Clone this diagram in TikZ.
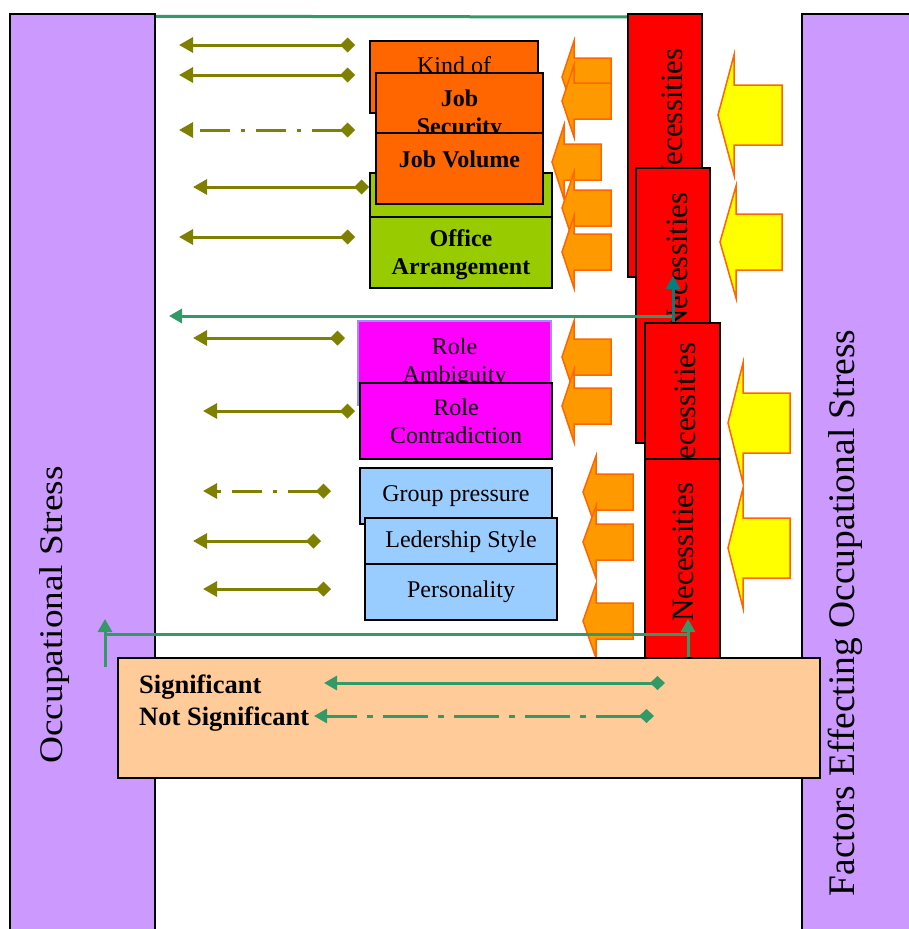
\documentclass[tikz,border=0pt]{standalone}
\usepackage{fontspec}
\setmainfont{Liberation Serif}
\usetikzlibrary{arrows.meta}
\definecolor{cpurple}{HTML}{CC99FF}
\definecolor{cred}{HTML}{FF0000}
\definecolor{corange}{HTML}{FF6600}
\definecolor{carrow}{HTML}{FF9900}
\definecolor{cyellow}{HTML}{FFFF00}
\definecolor{cgreen}{HTML}{99CC00}
\definecolor{cmagenta}{HTML}{FF00FF}
\definecolor{clavender}{HTML}{A08CFF}
\definecolor{cblue}{HTML}{99CCFF}
\definecolor{cbeige}{HTML}{FFCC99}
\definecolor{colive}{HTML}{808000}
\definecolor{cline}{HTML}{339966}
\definecolor{cteal}{HTML}{008080}
\newcommand{\boxfont}{\fontsize{24}{28}\selectfont}
\newcommand{\necfont}{\fontsize{31}{36}\selectfont}
\newcommand{\sidefont}{\fontsize{37.5}{42}\selectfont}
\newcommand{\legfont}{\fontsize{26.5}{32}\selectfont\bfseries}

\begin{document}
\begin{tikzpicture}[
  x=1pt, y=-1pt,
  bar/.style={draw, line width=1.5pt, fill=cpurple, inner sep=0pt},
  redbox/.style={draw, line width=2pt, fill=cred, inner sep=0pt},
  nectext/.style={rotate=90, font=\necfont, inner sep=0pt},
  box/.style={draw, line width=2pt, inner sep=0pt, align=center, font=\boxfont},
  obox/.style={box, fill=corange, font=\boxfont\bfseries},
  gbox/.style={box, fill=cgreen, font=\boxfont\bfseries},
  mbox/.style={box, fill=cmagenta},
  bbox/.style={box, fill=cblue},
  blockarr/.style={draw=corange, line width=1.5pt},
  oarr/.style={draw=colive, line width=3pt,
               {Diamond[length=15pt,width=15pt]}-{Triangle[length=14pt,width=15pt]}},
  garr/.style={draw=cline, line width=3pt, -{Triangle[length=13pt,width=14pt]}},
  gdiam/.style={draw=cline, line width=3pt,
                {Diamond[length=15pt,width=14pt]}-{Triangle[length=13pt,width=14pt]}},
  dashdot/.style={dash pattern=on 30pt off 11pt on 4pt off 11pt},
  ]
\path[fill=white, use as bounding box] (0,0) rectangle (909,929);

% side bars
\node[bar, minimum width=145pt, minimum height=926pt] (occ) at (82.5,477) {};
\node[rotate=90, font=\fontsize{33}{38}\selectfont] (occt) at (55,615)
  {\scalebox{1.13}[1]{Occupational Stress}};
\node[bar, minimum width=118pt, minimum height=926pt] (fac) at (861,477) {};
\node[rotate=90, font=\sidefont] (fact) at (845,613) {Factors Effecting Occupational Stress};

\draw[draw=cline, line width=3pt] ([yshift=-3pt]occ.north east) -- (628,17);

% necessities
\node[redbox, minimum width=74pt, minimum height=263pt] (nec1) at (665,145.5) {};
\node[nectext] (nec1t) at (672,118) {Necessities};
\node[redbox, minimum width=74pt, minimum height=275pt] (nec2) at (673,305.5) {};
\node[nectext] (nec2t) at (677,262) {Necessities};
\node[redbox, minimum width=75pt, minimum height=277pt] (nec3) at (682.5,461.5) {};
\node[nectext] (nec3t) at (685,412) {Necessities};
\node[redbox, minimum width=75pt, minimum height=211pt] (nec4) at (682.5,564.5) {};
\node[nectext] (nec4t) at (683,552) {Necessities};

% block arrows
\foreach \tx/\ty/\bx/\rx/\hh/\sh in {562/77/574/611/36/19, 562/101/574/611/36/18,
    552/162/564/601/37/18, 562/208/574/611/36/18, 562/252/574/611/36/18,
    562/357/574/611/36/18, 562/406/574/611/36/18, 583/492/596/633/36/18,
    583/542/596/633/36/18, 583/621/596/633/37/18}
  \draw[blockarr, fill=carrow] (\tx,\ty) -- (\bx,\ty-\hh) -- (\bx,\ty-\sh) -- (\rx,\ty-\sh)
    -- (\rx,\ty+\sh) -- (\bx,\ty+\sh) -- (\bx,\ty+\hh) -- cycle;
\foreach \tx/\ty/\bx/\rx/\hh/\sh in {718/115/734/782/60/30, 720/242/736/782/56/28,
    728/423/743/790/60/30, 728/548/743/790/60/30}
  \draw[blockarr, fill=cyellow] (\tx,\ty) -- (\bx,\ty-\hh) -- (\bx,\ty-\sh) -- (\rx,\ty-\sh)
    -- (\rx,\ty+\sh) -- (\bx,\ty+\sh) -- (\bx,\ty+\hh) -- cycle;

% factor boxes
\node[obox, minimum width=168pt, minimum height=72pt] (kind) at (454,77) {};
\node[font=\boxfont, inner sep=0pt] (kindt) at (454,65) {Kind of};
\node[obox, minimum width=167pt, minimum height=84pt] (jobsec) at (459.5,115) {Job\\Security};
\node[gbox, minimum width=182pt, minimum height=44pt] (work) at (461,195) {};
\node[obox, minimum width=167pt, minimum height=71pt] (jobvol) at (459.5,168.5) {};
\node[font=\boxfont\bfseries, inner sep=0pt] (jobvolt) at (459.5,159) {Job Volume};
\node[gbox, minimum width=182pt, minimum height=71pt] (office) at (461,252.5) {};
\node[font=\boxfont\bfseries, align=center, inner sep=0pt] (officet) at (461,255) {Office\\Arrangement};
\node[mbox, draw=clavender, minimum width=193pt, minimum height=84pt] (amb) at (454.5,363) {Role\\Ambiguity};
\node[mbox, minimum width=192pt, minimum height=76pt] (contra) at (456,421) {Role\\Contradiction};
\node[bbox, minimum width=192pt, minimum height=56pt] (group) at (456,496) {Group pressure};
\node[bbox, minimum width=192pt, minimum height=47pt] (leader) at (461,541.5) {Ledership Style};
\node[bbox, minimum width=192pt, minimum height=56pt] (person) at (461,592) {Personality};

% relations
\foreach \i/\y/\xa/\xb/\ls in {1/45/355/179/solid, 2/75/355/179/solid, 3/130/355/179/dashdot,
    4/187/369/193/solid, 5/237/355/179/solid, 6/338/345/193/solid, 7/411/355/203/solid,
    8/491/331/203/dashdot, 9/541/321/193/solid, 10/589/331/203/solid} {
  \coordinate (r\i) at (\xa,\y);
  \coordinate (l\i) at (\xb,\y);
  \draw[oarr, \ls] (r\i) -- (l\i);
}

\coordinate (mid1) at (673,316);
\coordinate (mid2) at (169,316);
\coordinate (tl1) at (673,322);
\coordinate (tl2) at (673,276);
\draw[garr] (mid1) -- (mid2);
\draw[garr, draw=cteal] (tl1) -- (tl2);

\coordinate (up1a) at (105,667);
\coordinate (up1b) at (105,619);
\coordinate (hl1) at (105,634);
\coordinate (hl2) at (688,634);
\coordinate (up2a) at (688,658);
\coordinate (up2b) at (688,619);
\draw[garr] (up1a) -- (up1b);
\draw[draw=cline, line width=3pt] (hl1) -- (hl2);
\draw[garr] (up2a) -- (up2b);

% legend
\node[draw, line width=2pt, fill=cbeige, minimum width=702pt, minimum height=120pt] (legend) at (469,718) {};
\node[font=\legfont, align=left, anchor=west, inner sep=0pt] (sig) at (139,703) {Significant\\Not Significant};
\coordinate (s1) at (665,683);
\coordinate (s2) at (324,683);
\coordinate (n1) at (654,716);
\coordinate (n2) at (314,716);
\draw[gdiam] (s1) -- (s2);
\draw[gdiam, dash pattern=on 45pt off 10pt on 6pt off 10pt] (n1) -- (n2);
\end{tikzpicture}
\end{document}
